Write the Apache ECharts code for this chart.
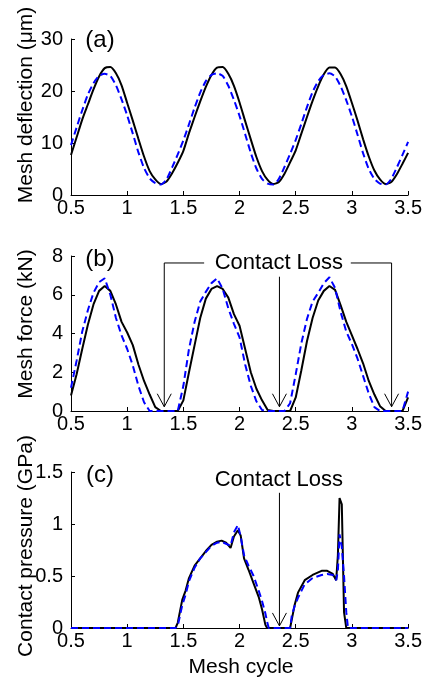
<!DOCTYPE html>
<html><head><meta charset="utf-8">
<script src="https://cdn.jsdelivr.net/npm/echarts@6/dist/echarts.min.js"></script>
<style>html,body{margin:0;padding:0;background:#fff}#c{width:425px;height:681px}</style>
</head><body><div id="c"></div>
<script>
// ---- data ----
const xStart = 0.5, xStep = 0.05, nPts = 61;
const deflectionMeasured = [7.7,11.1,14.5,17.4,20.3,22.8,24.4,24.6,23.4,21.1,17.7,14.3,10.8,7.4,4.6,3.0,2.1,2.6,4.2,6.2,8.5,
  11.9,15.0,18.0,20.8,23.1,24.5,24.6,23.3,21.0,17.8,14.2,10.7,7.3,4.6,2.9,2.1,2.5,4.1,6.3,8.6,
  11.8,15.0,18.1,20.9,23.2,24.5,24.5,23.2,20.9,17.7,14.3,10.7,7.4,4.7,3.0,2.1,2.5,4.0,6.0,8.1];
const deflectionModel = [9.6,13.0,16.3,19.3,21.5,22.9,23.3,22.9,21.1,18.4,15.3,11.8,8.2,5.2,3.2,2.3,2.0,3.0,5.3,7.8,10.5,
  13.6,16.8,19.7,21.9,23.1,23.4,22.9,21.0,18.3,15.2,11.7,8.1,5.1,3.1,2.2,2.0,3.1,5.4,7.9,10.6,
  13.7,16.9,19.8,21.9,23.1,23.4,22.8,20.9,18.2,15.1,11.6,8.0,5.0,3.1,2.2,2.0,3.1,5.3,7.7,10.2];
const forceMeasured = [0.8,1.9,3.2,4.45,5.5,6.2,6.45,6.2,5.5,4.6,4.05,3.4,2.4,1.55,0.85,0.2,0,0,0,0,0.55,
  2.0,3.4,4.8,5.8,6.3,6.45,6.3,5.85,5.0,4.4,3.2,2.0,1.15,0.55,0.05,0,0,0,0,0.7,
  2.1,3.6,4.8,5.7,6.2,6.45,6.25,5.45,4.6,3.9,3.2,2.45,1.55,0.85,0.25,0,0,0,0,0.7];
const forceModel = [1.2,2.6,4.1,5.2,6.1,6.65,6.85,6.0,4.8,3.9,3.2,2.35,1.3,0.45,0,0,0,0,0,0,1.3,
  3.2,4.6,5.65,6.15,6.6,6.85,6.3,5.3,4.5,3.8,2.4,1.3,0.5,0.05,0,0,0,0,0.4,1.9,
  3.5,4.75,5.65,6.1,6.6,6.9,6.35,5.1,4.1,3.45,2.7,1.8,0.9,0.2,0,0,0,0,0,1.0];
const xPressure = [0.5,1.43,1.45,1.49,1.52,1.55,1.60,1.65,1.70,1.75,1.80,1.84,1.88,1.92,1.95,1.985,2.01,2.04,2.08,2.125,2.17,2.20,2.23,2.245,2.26,2.45,2.465,2.49,2.52,2.58,2.65,2.73,2.78,2.83,2.86,2.875,2.89,2.91,2.93,2.95,2.965,3.0,3.5];
const pressureMeasured = [0,0,0.05,0.27,0.36,0.48,0.60,0.67,0.74,0.80,0.83,0.84,0.82,0.77,0.88,0.94,0.89,0.67,0.56,0.43,0.30,0.18,0.03,0,0,0,0,0.22,0.34,0.46,0.51,0.55,0.55,0.52,0.46,0.70,1.25,1.19,0.15,0,0,0,0];
const pressureModel = [0,0,0.02,0.22,0.32,0.45,0.58,0.67,0.73,0.79,0.82,0.83,0.81,0.79,0.92,0.99,0.88,0.70,0.60,0.50,0.36,0.26,0.14,0.06,0,0,0.12,0.21,0.29,0.42,0.48,0.51,0.52,0.51,0.46,0.55,0.90,0.78,0.50,0.15,0,0,0];
// annotation anchors (data units)
const lossArrowsB = [1.33, 2.355, 3.353];
const lossBarB = {y: 7.64, leftEnd: 1.685, rightStart: 2.99, textX: 2.35, midTop: 6.93, tip: 0.22};
const lossC = {textX: 2.35, textY: 1.426, arrowX: 2.355, top: 1.30, tip: 0.02};
const lossText = 'Contact Loss';
const yTitles = ['Mesh deflection (\u03bcm)', 'Mesh force (kN)', 'Contact pressure (GPa)'];
const panelTags = ['(a)', '(b)', '(c)'];
const xTitle = 'Mesh cycle';

// ---- build ----
const xs = Array.from({length: nPts}, (_, i) => +(xStart + i * xStep).toFixed(2));
const pair = (xa, ya) => xa.map((x, i) => [x, ya[i]]);
const FONT = 'Liberation Sans, Arial, sans-serif';
const grids = [
  {left: 71, top: 39, width: 341, height: 156},
  {left: 71, top: 256, width: 341, height: 155},
  {left: 71, top: 472, width: 341, height: 156}
];
const yRanges = [[0, 30, 10], [0, 8, 2], [0, 1.5, 0.5]];
const axisCommon = {
  axisLine: {show: true, onZero: false, lineStyle: {color: '#000', width: 1}},
  axisTick: {show: true, inside: true, length: 4, lineStyle: {color: '#000'}},
  splitLine: {show: false},
  axisLabel: {color: '#000', fontSize: 20, fontFamily: FONT}
};
const xAxes = grids.map((g, i) => Object.assign({}, axisCommon, {
  type: 'value', gridIndex: i, min: 0.5, max: 3.5, interval: 0.5,
  axisLabel: Object.assign({}, axisCommon.axisLabel, {margin: 3})
}));
const yAxes = grids.map((g, i) => Object.assign({}, axisCommon, {
  type: 'value', gridIndex: i, min: yRanges[i][0], max: yRanges[i][1], interval: yRanges[i][2],
  axisLabel: Object.assign({}, axisCommon.axisLabel, {margin: 8})
}));
const solid = {color: '#000', width: 2};
const dashed = {color: '#0000ff', width: 2, type: [7, 4]};
function lineSeries(idx, data, style, smooth) {
  return {type: 'line', xAxisIndex: idx, yAxisIndex: idx, data: data, showSymbol: false, symbol: 'none',
    lineStyle: style, itemStyle: {color: style.color}, smooth: smooth, z: style.type ? 3 : 2};
}
const thin = {stroke: '#000', lineWidth: 1, fill: null};
function vHead(p) {
  return {type: 'polyline', shape: {points: [[p[0] - 7, p[1] - 13], [p[0], p[1]], [p[0] + 7, p[1] - 13]]}, style: thin};
}
function seg(a, b) {
  return {type: 'line', shape: {x1: a[0], y1: a[1], x2: b[0], y2: b[1]}, style: thin};
}
const textStyle = (t) => ({text: t, fill: '#000', fontSize: 22, fontFamily: FONT, align: 'center', verticalAlign: 'middle'});

const annB = {
  type: 'custom', xAxisIndex: 1, yAxisIndex: 1, data: [[lossBarB.textX, lossBarB.y]], silent: true, z: 5,
  renderItem: function (params, api) {
    const ch = [];
    const L = lossArrowsB[0], M = lossArrowsB[1], R = lossArrowsB[2];
    ch.push(seg(api.coord([L, lossBarB.y]), api.coord([lossBarB.leftEnd, lossBarB.y])));
    ch.push(seg(api.coord([lossBarB.rightStart, lossBarB.y]), api.coord([R, lossBarB.y])));
    ch.push(seg(api.coord([L, lossBarB.y]), api.coord([L, lossBarB.tip])));
    ch.push(seg(api.coord([R, lossBarB.y]), api.coord([R, lossBarB.tip])));
    ch.push(seg(api.coord([M, lossBarB.midTop]), api.coord([M, lossBarB.tip])));
    lossArrowsB.forEach(x => ch.push(vHead(api.coord([x, lossBarB.tip]))));
    const tp = api.coord([lossBarB.textX, lossBarB.y]);
    ch.push({type: 'text', x: tp[0], y: tp[1], style: textStyle(lossText)});
    return {type: 'group', children: ch};
  }
};
const annC = {
  type: 'custom', xAxisIndex: 2, yAxisIndex: 2, data: [[lossC.textX, lossC.textY]], silent: true, z: 5,
  renderItem: function (params, api) {
    const tip = api.coord([lossC.arrowX, lossC.tip]);
    const tp = api.coord([lossC.textX, lossC.textY]);
    return {type: 'group', children: [
      seg(api.coord([lossC.arrowX, lossC.top]), tip),
      vHead(tip),
      {type: 'text', x: tp[0], y: tp[1], style: textStyle(lossText)}
    ]};
  }
};

const graphics = [];
const titleY = [105, 324, 546];
yTitles.forEach((t, i) => graphics.push({
  type: 'text', x: 26, y: titleY[i], rotation: Math.PI / 2,
  style: {text: t, fill: '#000', fontSize: 21, fontFamily: FONT, align: 'center', verticalAlign: 'middle'}
}));
const tagY = [40, 259, 475];
panelTags.forEach((t, i) => graphics.push({
  type: 'text', x: 100, y: tagY[i],
  style: {text: t, fill: '#000', fontSize: 24, fontFamily: FONT, align: 'center', verticalAlign: 'middle'}
}));
graphics.push({type: 'text', x: 241, y: 667,
  style: {text: xTitle, fill: '#000', fontSize: 21, fontFamily: FONT, align: 'center', verticalAlign: 'middle'}});

const chart = echarts.init(document.getElementById('c'), null, {renderer: 'canvas'});
chart.setOption({
  animation: false,
  backgroundColor: '#fff',
  grid: grids,
  xAxis: xAxes,
  yAxis: yAxes,
  graphic: graphics,
  series: [
    lineSeries(0, pair(xs, deflectionMeasured), solid, 0.2),
    lineSeries(0, pair(xs, deflectionModel), dashed, 0.2),
    lineSeries(1, pair(xs, forceMeasured), solid, false),
    lineSeries(1, pair(xs, forceModel), dashed, false),
    lineSeries(2, pair(xPressure, pressureMeasured), solid, false),
    lineSeries(2, pair(xPressure, pressureModel), dashed, false),
    annB, annC
  ]
});
</script></body></html>
